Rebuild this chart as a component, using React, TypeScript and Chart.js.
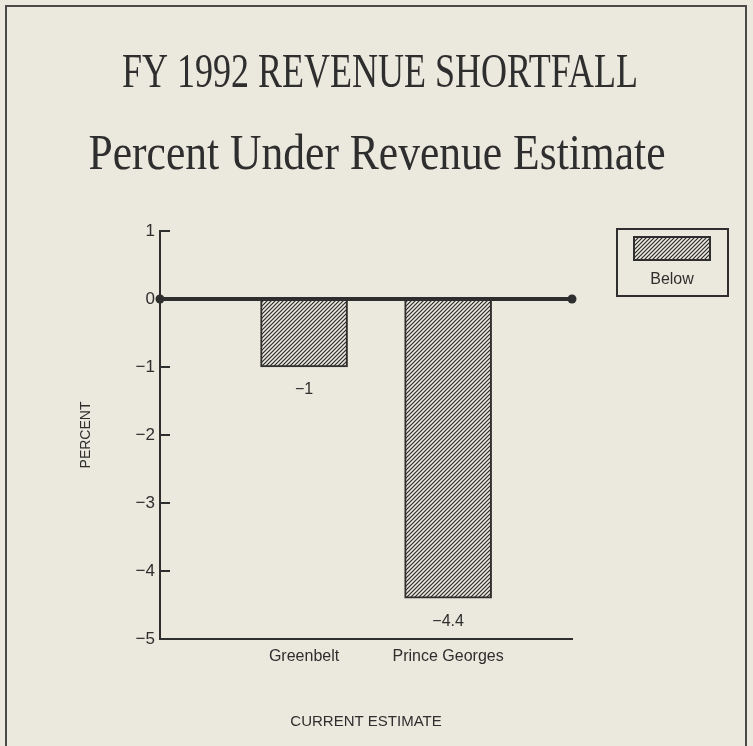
import React, { useEffect, useRef } from 'react';
import { Chart, registerables } from 'chart.js';

Chart.register(...registerables);

// ---- data ----
const TITLE = 'FY 1992 REVENUE SHORTFALL';
const SUBTITLE = 'Percent Under Revenue Estimate';
const categories = ['Greenbelt', 'Prince Georges'];
const categoryPositions = [1, 2];
const seriesLabel = 'Below';
const belowValues = [-1, -4.4];
const yMin = -5;
const yMax = 1;
const yStep = 1;
const xMin = 0;
const xMax = 2.86;
const baselineValue = 0;
const xAxisTitle = 'CURRENT ESTIMATE';
const yAxisTitle = 'PERCENT';

// ---- style ----
const INK = '#2e2e2e';
const PAPER = '#ebe8dd';
const SANS = "'Liberation Sans Narrow', 'Arial Narrow', 'Liberation Sans', Arial, sans-serif";
const SERIF = "'Liberation Serif', 'Times New Roman', serif";

const fmt = (v: number) => (v < 0 ? '\u2212' + String(Math.abs(v)) : String(v));

function makeHatch(ink: string, paper: string): CanvasPattern | string {
  const s = 4;
  const c = document.createElement('canvas');
  c.width = s;
  c.height = s;
  const g = c.getContext('2d');
  if (!g) return ink;
  g.fillStyle = paper;
  g.fillRect(0, 0, s, s);
  g.strokeStyle = ink;
  g.lineWidth = 1.2;
  g.beginPath();
  g.moveTo(-1, s + 1);
  g.lineTo(s + 1, -1);
  g.moveTo(-1, 1);
  g.lineTo(1, -1);
  g.moveTo(s - 1, s + 1);
  g.lineTo(s + 1, s - 1);
  g.stroke();
  return g.createPattern(c, 'repeat') || ink;
}

const framePlugin = {
  id: 'frame',
  beforeDraw(chart: any) {
    const { ctx, width, height } = chart;
    ctx.save();
    ctx.fillStyle = PAPER;
    ctx.fillRect(0, 0, width, height);
    ctx.strokeStyle = '#4a4a4a';
    ctx.lineWidth = 2;
    ctx.strokeRect(6, 6, width - 13, height + 20);
    ctx.restore();
  },
};

const titlePlugin = {
  id: 'scaledTitles',
  afterDraw(chart: any, _args: any, opts: any) {
    const { ctx } = chart;
    for (const line of opts.lines) {
      ctx.save();
      ctx.font = `${line.size}px ${SERIF}`;
      const w = ctx.measureText(line.text).width;
      const sx = line.width / w;
      ctx.translate(line.x, line.y);
      ctx.scale(sx, 1);
      ctx.textAlign = 'center';
      ctx.textBaseline = 'alphabetic';
      ctx.fillStyle = INK;
      ctx.fillText(line.text, 0, 0);
      ctx.restore();
    }
  },
};

const innerTicksPlugin = {
  id: 'innerTicks',
  afterDraw(chart: any) {
    const { ctx, chartArea } = chart;
    const y = chart.scales.y;
    ctx.save();
    ctx.strokeStyle = INK;
    ctx.lineWidth = 2;
    for (const t of y.ticks) {
      if (t.value === yMin || t.value === baselineValue) continue;
      const py = y.getPixelForValue(t.value);
      ctx.beginPath();
      ctx.moveTo(chartArea.left, py);
      ctx.lineTo(chartArea.left + 10, py);
      ctx.stroke();
    }
    ctx.restore();
  },
};

const valueLabelPlugin = {
  id: 'valueLabels',
  afterDatasetsDraw(chart: any) {
    const { ctx } = chart;
    const meta = chart.getDatasetMeta(0);
    ctx.save();
    ctx.fillStyle = INK;
    ctx.font = `16px ${SANS}`;
    ctx.textAlign = 'center';
    ctx.textBaseline = 'middle';
    meta.data.forEach((el: any, i: number) => {
      ctx.fillText(fmt(belowValues[i]), el.x, el.y + 23);
    });
    ctx.restore();
  },
};

const boxLegendPlugin = {
  id: 'boxLegend',
  afterDraw(chart: any) {
    const { ctx, chartArea } = chart;
    const ds = chart.data.datasets[0];
    const bx = chartArea.right + 45;
    const by = chartArea.top - 2;
    const bw = 111;
    const bh = 67;
    ctx.save();
    ctx.strokeStyle = INK;
    ctx.lineWidth = 2;
    ctx.strokeRect(bx, by, bw, bh);
    ctx.fillStyle = ds.backgroundColor;
    ctx.fillRect(bx + 17, by + 8, 76, 23);
    ctx.strokeRect(bx + 17, by + 8, 76, 23);
    ctx.fillStyle = INK;
    ctx.font = `16px ${SANS}`;
    ctx.textAlign = 'center';
    ctx.textBaseline = 'middle';
    ctx.fillText(ds.label, bx + 55, by + 51);
    ctx.restore();
  },
};

export default function App() {
  const ref = useRef<HTMLCanvasElement>(null);

  useEffect(() => {
    if (!ref.current) return;
    const hatch = makeHatch('#2a2a2a', PAPER);
    const chart = new Chart(ref.current, {
      type: 'bar',
      data: {
        datasets: [
          {
            type: 'bar',
            label: seriesLabel,
            data: categoryPositions.map((x, i) => ({ x, y: belowValues[i] })),
            backgroundColor: hatch as any,
            borderColor: INK,
            borderWidth: 2,
            borderSkipped: false,
            barThickness: 87,
            order: 2,
          } as any,
          {
            type: 'line',
            label: 'baseline',
            data: [
              { x: xMin, y: baselineValue },
              { x: xMax, y: baselineValue },
            ],
            borderColor: INK,
            borderWidth: 4,
            pointRadius: 4.5,
            pointBackgroundColor: INK,
            pointBorderWidth: 0,
            clip: false,
            order: 1,
          } as any,
        ],
      },
      options: {
        responsive: false,
        animation: false,
        events: [],
        layout: { padding: { top: 231, right: 181, bottom: 0, left: 0 } },
        plugins: {
          legend: { display: false },
          tooltip: { enabled: false },
          title: { display: false },
          scaledTitles: {
            lines: [
              { text: TITLE, size: 48, x: 380, y: 87, width: 516 },
              { text: SUBTITLE, size: 51, x: 377, y: 169, width: 577 },
            ],
          },
        } as any,
        scales: {
          x: {
            type: 'linear',
            min: xMin,
            max: xMax,
            offset: false,
            afterBuildTicks: (scale: any) => {
              scale.ticks = categoryPositions.map((v) => ({ value: v }));
            },
            afterFit: (scale: any) => {
              scale.height = 107;
            },
            grid: { display: false, drawTicks: false },
            border: { display: true, color: INK, width: 2 },
            ticks: {
              padding: 8,
              color: INK,
              font: { family: SANS, size: 16 },
              maxRotation: 0,
              autoSkip: false,
              callback: (v: any) => {
                const i = categoryPositions.indexOf(Number(v));
                return i >= 0 ? categories[i] : '';
              },
            },
            title: {
              display: true,
              text: xAxisTitle,
              color: INK,
              font: { family: SANS, size: 15 },
              padding: { top: 0, bottom: 15 },
            },
          },
          y: {
            type: 'linear',
            min: yMin,
            max: yMax,
            afterFit: (scale: any) => {
              scale.width = 160;
            },
            grid: { display: false, drawTicks: false },
            border: { display: true, color: INK, width: 2 },
            ticks: {
              stepSize: yStep,
              padding: 5,
              color: INK,
              font: { family: SANS, size: 17 },
              callback: (v: any) => fmt(Number(v)),
            },
            title: {
              display: true,
              text: yAxisTitle,
              color: INK,
              font: { family: SANS, size: 14 },
              padding: { top: 78, bottom: 0 },
            },
          },
        },
      },
      plugins: [framePlugin, titlePlugin, innerTicksPlugin, valueLabelPlugin, boxLegendPlugin],
    });
    return () => chart.destroy();
  }, []);

  return (
    <div style={{ position: 'absolute', left: 0, top: 0, width: 753, height: 746, background: PAPER }}>
      <canvas ref={ref} width={753} height={746} style={{ display: 'block' }} />
    </div>
  );
}
